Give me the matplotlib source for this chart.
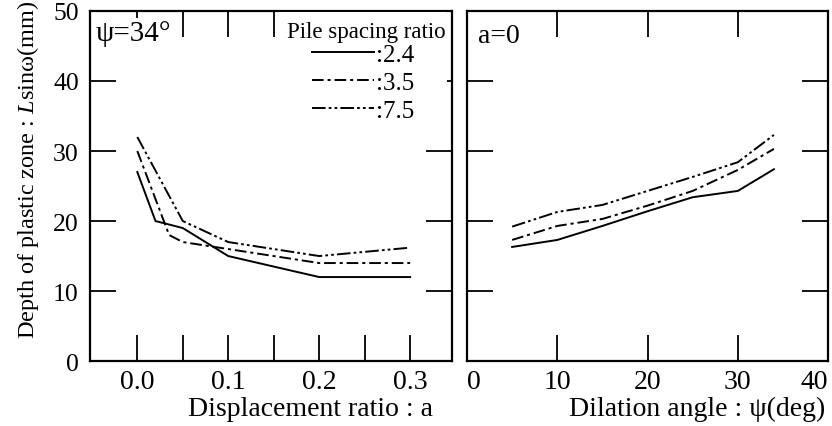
"""Depth of plastic zone vs displacement ratio and dilation angle."""

import matplotlib.pyplot as plt
from matplotlib.ticker import FixedLocator, MultipleLocator

plt.rcParams["font.family"] = ["Liberation Serif", "DejaVu Serif"]
plt.rcParams["mathtext.fontset"] = "custom"
plt.rcParams["mathtext.rm"] = "Liberation Serif"
plt.rcParams["mathtext.it"] = "Liberation Serif:italic"

# left panel: psi = 34 deg
disp_ratio = [0.0, 0.02, 0.05, 0.1, 0.2, 0.3]
depth_a_24 = [27.0, 20.0, 19.0, 15.0, 12.0, 12.0]
disp_ratio_35 = [0.0, 0.035, 0.05, 0.1, 0.2, 0.3]
depth_a_35 = [30.0, 18.0, 17.0, 16.0, 14.0, 14.0]
disp_ratio_75 = [0.0, 0.05, 0.1, 0.2, 0.3]
depth_a_75 = [32.0, 20.0, 17.0, 15.0, 16.2]

# right panel: a = 0
dilation = [5, 10, 15, 20, 25, 30, 34]
depth_p_24 = [16.3, 17.3, 19.3, 21.4, 23.4, 24.3, 27.4]
depth_p_35 = [17.3, 19.3, 20.3, 22.2, 24.3, 27.3, 30.3]
depth_p_75 = [19.2, 21.3, 22.3, 24.3, 26.3, 28.4, 32.3]

series_labels = [":2.4", ":3.5", ":7.5"]
styles = ["-", (0, (6, 2, 1.6, 2)), (0, (7, 1.6, 1.4, 1.6, 1.4, 1.6))]

fig = plt.figure(figsize=(8.32, 4.27), dpi=100)
ax0 = fig.add_axes([0.1082, 0.152, 0.435, 0.82])
ax1 = fig.add_axes([0.5613, 0.152, 0.434, 0.82])

lw = 1.4
ax0.plot(disp_ratio, depth_a_24, color="black", lw=lw, ls=styles[0], label=series_labels[0])
ax0.plot(disp_ratio_35, depth_a_35, color="black", lw=lw, ls=styles[1], label=series_labels[1])
ax0.plot(disp_ratio_75, depth_a_75, color="black", lw=lw, ls=styles[2], label=series_labels[2])

ax1.plot(dilation, depth_p_24, color="black", lw=lw, ls=styles[0])
ax1.plot(dilation, depth_p_35, color="black", lw=lw, ls=styles[1])
ax1.plot(dilation, depth_p_75, color="black", lw=lw, ls=styles[2])

ax0.set_xlim(-0.052, 0.346)
ax0.xaxis.set_major_locator(MultipleLocator(0.1))
ax0.xaxis.set_minor_locator(FixedLocator([0.05, 0.15, 0.25]))
ax0.xaxis.set_major_formatter(lambda v, p: f"{v:.1f}")
ax1.set_xlim(0, 40)
ax1.set_xticks([0, 10, 20, 30, 40])

for ax in (ax0, ax1):
    ax.set_ylim(0, 50)
    ax.set_yticks([0, 10, 20, 30, 40, 50])
    ax.tick_params(which="both", direction="in", length=19, width=1.3,
                   top=True, right=True)
    ax.tick_params(axis="x", pad=6, labelsize=20)
    ax.tick_params(axis="y", pad=8, labelsize=18.5)
    for s in ax.spines.values():
        s.set_linewidth(1.6)

ax1.tick_params(axis="y", labelleft=False)
# the edge labels of the right panel sit inside the frame
xlabels = ax1.get_xticklabels()
xlabels[0].set_horizontalalignment("left")
xlabels[-1].set_horizontalalignment("right")

ax0.set_ylabel(r"Depth of plastic zone : $\mathit{L}$sinω(mm)", fontsize=17.5,
               labelpad=9, y=0.55)
ax0.set_xlabel("Displacement ratio : a", fontsize=20, x=0.61, labelpad=1)
ax1.set_xlabel("Dilation angle : ψ(deg)", fontsize=20, x=0.637, labelpad=1)

ax0.text(0.014, 0.975, "ψ=34°", transform=ax0.transAxes, fontsize=21, va="top",
         bbox=dict(facecolor="white", edgecolor="none", pad=1))
ax1.text(0.03, 0.965, "a=0", transform=ax1.transAxes, fontsize=20, va="top",
         bbox=dict(facecolor="white", edgecolor="none", pad=1))

leg = ax0.legend(title="Pile spacing ratio", loc="upper right", bbox_to_anchor=(0.99, 1.0),
                 fontsize=18, title_fontsize=16.5, frameon=True, fancybox=False,
                 framealpha=1, edgecolor="none", handlelength=2.5, handletextpad=0.05,
                 labelspacing=0.22, borderpad=0.2, borderaxespad=0.05)
leg.get_frame().set_linewidth(0)
leg.get_title().set_position((4, -4))

fig.savefig("out.png", dpi=100)
